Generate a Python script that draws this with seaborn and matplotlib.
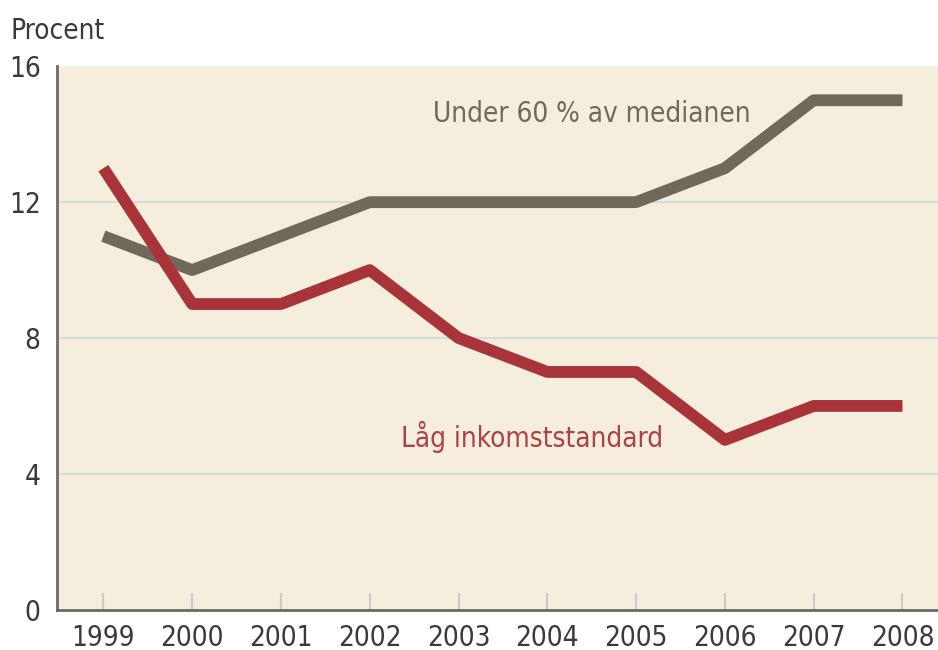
import matplotlib
matplotlib.use("Agg")
import matplotlib.pyplot as plt
import seaborn as sns
import pandas as pd

years = [1999, 2000, 2001, 2002, 2003, 2004, 2005, 2006, 2007, 2008]
under_60 = [11, 10, 11, 12, 12, 12, 12, 13, 15, 15]
lag_inkomst = [13, 9, 9, 10, 8, 7, 7, 5, 6, 6]
y_ticks = [0, 4, 8, 12, 16]

sns.set_style("white")
plt.rcParams["font.family"] = ["DejaVu Sans"]
plt.rcParams["font.stretch"] = "condensed"

df = pd.DataFrame({"year": years, "under": under_60, "lag": lag_inkomst})

fig = plt.figure(figsize=(9.38, 6.5), dpi=100)
ax = fig.add_axes([0.061, 0.062, 0.939, 0.836])
ax.set_facecolor("#f5eedc")

for y in [4, 8, 12]:
    ax.axhline(y, color="#d8dcdc", lw=1.5, zorder=1)

sns.lineplot(data=df, x="year", y="under", ax=ax, color="#70685b", lw=8.5,
             zorder=3, solid_capstyle="butt")
sns.lineplot(data=df, x="year", y="lag", ax=ax, color="#a8343a", lw=8.5,
             zorder=3, solid_capstyle="butt")

ax.set_xlim(1998.48, 2008.4)
ax.set_ylim(0, 16)
ax.set_xticks(years)
ax.set_yticks(y_ticks)
ax.tick_params(axis="x", bottom=True, direction="in", length=12, color="#c8ccd0",
               width=1.5, labelsize=20, pad=10, labelcolor="#3a3a3a")
ax.tick_params(axis="y", left=False, length=0, labelsize=20, pad=12,
               labelcolor="#3a3a3a")
ax.set_xlabel("")
ax.set_ylabel("")

for s in ["top", "right"]:
    ax.spines[s].set_visible(False)
for s in ["left", "bottom"]:
    ax.spines[s].set_color("#6a6a6a")
    ax.spines[s].set_linewidth(2)

ax.text(2004.5, 14.6, "Under 60 % av medianen", color="#6f695e", fontsize=20,
        ha="center", va="center")
ax.text(2003.83, 5.1, "Låg inkomststandard", color="#b04048", fontsize=20,
        ha="center", va="center")
fig.text(0.011, 0.953, "Procent", color="#3a3a3a", fontsize=20, ha="left", va="center")

fig.savefig("out.png", dpi=100)
